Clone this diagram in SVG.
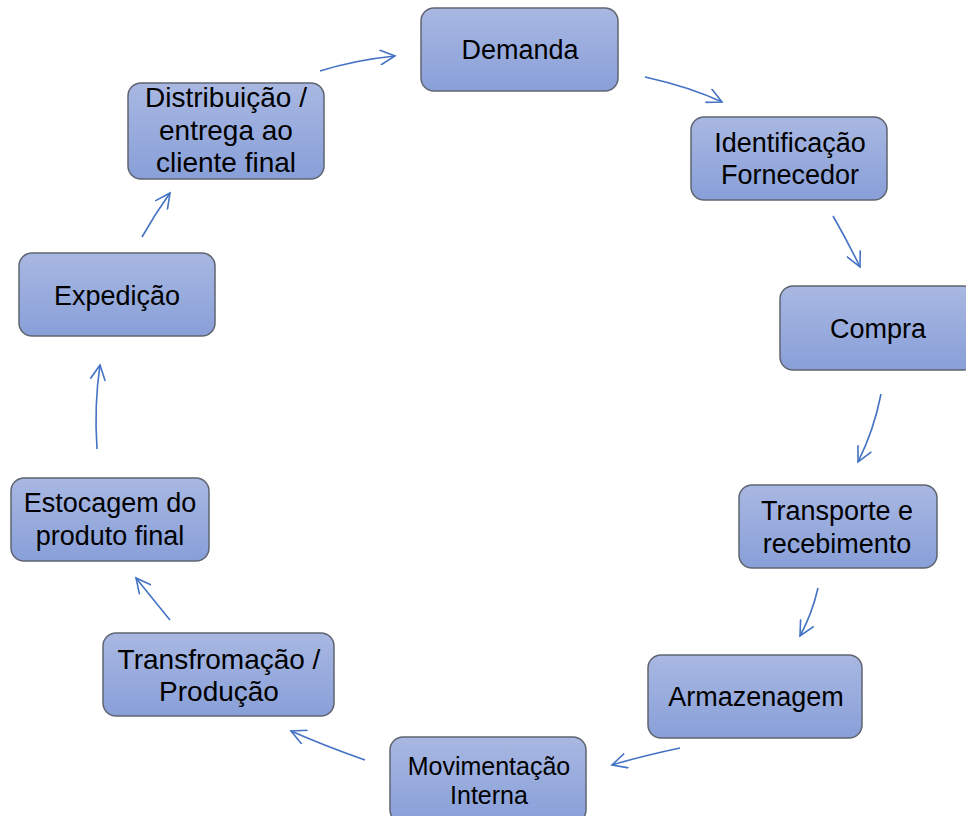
<svg xmlns="http://www.w3.org/2000/svg" width="966" height="816" viewBox="0 0 966 816">
<defs>
<linearGradient id="g" x1="0" y1="0" x2="0" y2="1">
<stop offset="0" stop-color="#a9b8e2"/>
<stop offset="1" stop-color="#889fd8"/>
</linearGradient>
<marker id="ah" viewBox="-16 -8 18 16" markerWidth="18" markerHeight="16" refX="0" refY="0" orient="auto" markerUnits="userSpaceOnUse">
<path d="M-15,-7.5 L0,0 L-15,7.5" fill="none" stroke="#4472c4" stroke-width="1.6"/>
</marker>
</defs>
<style>
.box{fill:url(#g);stroke:#5f6470;stroke-width:1.5}
.t{font-family:"Liberation Sans",Arial,sans-serif;font-size:27px;fill:#000;text-anchor:middle}
.c{fill:none;stroke:#4472c4;stroke-width:1.6;marker-end:url(#ah)}
</style>
<rect width="966" height="816" fill="#fff"/>
<g id="connectors">
<path class="c" d="M320,71 Q355,60 395,56"/>
<path class="c" d="M645,77 Q690,87 722,102"/>
<path class="c" d="M833,216 Q848,242 860,267"/>
<path class="c" d="M881,394 Q874,430 858,462"/>
<path class="c" d="M818,588 Q812,614 800,636"/>
<path class="c" d="M680,748 Q642,756 612,765"/>
<path class="c" d="M365,760 Q325,746 291,731"/>
<path class="c" d="M170,620 Q152,598 136,578"/>
<path class="c" d="M97,449 Q94,405 100,365"/>
<path class="c" d="M142,237 Q155,214 170,193"/>
</g>
<g id="demanda">
<rect class="box" x="421" y="8" width="197" height="83" rx="13"/>
<text class="t" x="520" y="59">Demanda</text>
</g>
<g id="identificacao">
<rect class="box" x="691" y="117" width="196" height="83" rx="13"/>
<text class="t" x="790" y="152">Identificação</text>
<text class="t" x="790" y="184">Fornecedor</text>
</g>
<g id="compra">
<rect class="box" x="780" y="286" width="196" height="84" rx="13"/>
<text class="t" x="878" y="338">Compra</text>
</g>
<g id="transporte">
<rect class="box" x="739" y="485" width="198" height="83" rx="13"/>
<text class="t" x="837" y="520">Transporte e</text>
<text class="t" x="837" y="553">recebimento</text>
</g>
<g id="armazenagem">
<rect class="box" x="648" y="655" width="214" height="83" rx="13"/>
<text class="t" x="756" y="706">Armazenagem</text>
</g>
<g id="movimentacao">
<rect class="box" x="390" y="737" width="196" height="86" rx="13"/>
<text class="t" x="489" y="775" style="font-size:25px">Movimentação</text>
<text class="t" x="489" y="804" style="font-size:25px">Interna</text>
</g>
<g id="transformacao">
<rect class="box" x="103" y="633" width="231" height="83" rx="13"/>
<text class="t" x="219" y="669" style="font-size:28px">Transfromação /</text>
<text class="t" x="219" y="701" style="font-size:28px">Produção</text>
</g>
<g id="estocagem">
<rect class="box" x="11" y="478" width="198" height="83" rx="13"/>
<text class="t" x="110" y="512">Estocagem do</text>
<text class="t" x="110" y="545">produto final</text>
</g>
<g id="expedicao">
<rect class="box" x="19" y="253" width="196" height="83" rx="13"/>
<text class="t" x="117" y="305">Expedição</text>
</g>
<g id="distribuicao">
<rect class="box" x="128" y="83" width="196" height="96" rx="13"/>
<text class="t" x="226" y="107" style="font-size:28px">Distribuição /</text>
<text class="t" x="226" y="140" style="font-size:28px">entrega ao</text>
<text class="t" x="226" y="172" style="font-size:28px">cliente final</text>
</g>
</svg>
